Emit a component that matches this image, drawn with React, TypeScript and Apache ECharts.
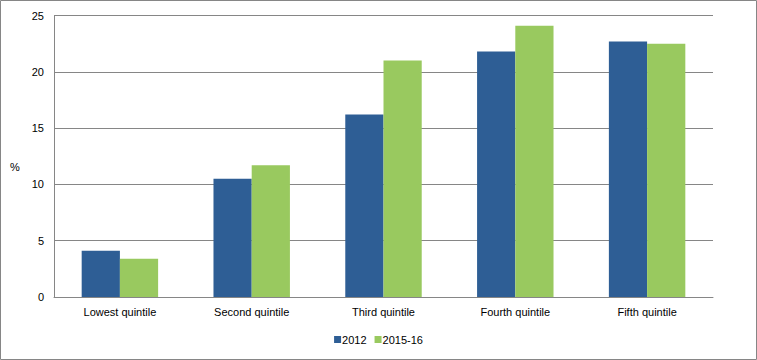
import React, { useEffect, useRef } from "react";
import * as echarts from "echarts";

const categories = ["Lowest quintile", "Second quintile", "Third quintile", "Fourth quintile", "Fifth quintile"];
const series2012 = [4.1, 10.5, 16.2, 21.8, 22.7];
const series201516 = [3.4, 11.7, 21.0, 24.1, 22.5];
const seriesNames = ["2012", "2015-16"];

export default function App() {
  const ref = useRef<HTMLDivElement>(null);
  useEffect(() => {
    const chart = echarts.init(ref.current!, null, { renderer: "svg" });
    const font = "'Liberation Sans', Arial, sans-serif";
    chart.setOption({
      animation: false,
      textStyle: { fontFamily: font },
      grid: { left: 54, right: 44, top: 15.5, bottom: 63 },
      legend: {
        data: seriesNames,
        bottom: 10,
        left: "center",
        itemWidth: 7,
        itemHeight: 7,
        itemGap: 8,
        icon: "rect",
        textStyle: { fontFamily: font, fontSize: 11, color: "#000", padding: [0, 0, 0, -4] },
      },
      xAxis: {
        type: "category",
        data: categories,
        axisLine: { lineStyle: { color: "#868686" } },
        axisTick: { show: false },
        axisLabel: { color: "#000", fontSize: 11, fontFamily: font, margin: 9 },
      },
      yAxis: {
        type: "value",
        min: 0,
        max: 25,
        interval: 5,
        axisLine: { show: true, lineStyle: { color: "#868686" } },
        axisTick: { show: false },
        axisLabel: { color: "#000", fontSize: 11, fontFamily: font, margin: 10 },
        splitLine: { lineStyle: { color: "#868686", width: 1 } },
      },
      graphic: [
        {
          type: "rect",
          shape: { x: 0.5, y: 0.5, width: 756, height: 359 },
          style: { fill: "none", stroke: "#868686", lineWidth: 1 },
          silent: true,
        },
        {
          type: "text",
          x: 10,
          y: 161,
          style: { text: "%", fontSize: 11, fontFamily: font, fill: "#000" },
        },
      ],
      series: [
        {
          name: seriesNames[0],
          type: "bar",
          data: series2012,
          barGap: "0%",
          barCategoryGap: "42%",
          itemStyle: { color: "#2E5E95" },
        },
        {
          name: seriesNames[1],
          type: "bar",
          data: series201516,
          itemStyle: { color: "#99C95F" },
        },
      ],
    });
    return () => chart.dispose();
  }, []);
  return (
    <div
      ref={ref}
      style={{ position: "fixed", left: 0, top: 0, width: 757, height: 360, background: "#fff" }}
    />
  );
}
